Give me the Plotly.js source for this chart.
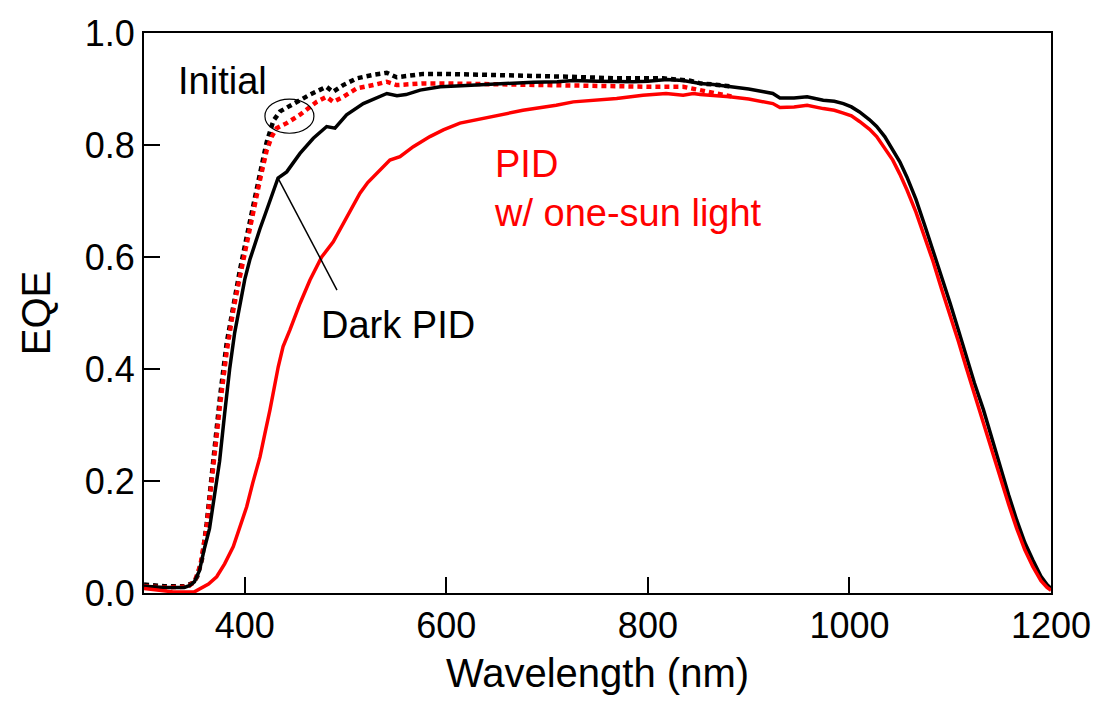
<!DOCTYPE html>
<html>
<head>
<meta charset="utf-8">
<script src="https://cdn.plot.ly/plotly-3.0.1.min.js"></script>
<style>
html,body{margin:0;padding:0;background:#fff;}
#chart{width:1101px;height:704px;}
</style>
</head>
<body>
<div id="chart"></div>
<script>
// Initial (sample later dark-PID tested) - black dotted
const initBlackWl = [300,320,340,345,349,353,357.5,362.2,368.8,375.4,382,388.6,395.2,401.9,408.5,415.1,421.7,428.3,435,448,464.7,481,487.5,497.6,511,527,540.8,550.7,577,596.6,626,676,720,769,815,842,852,865,881];
const initBlackEqe = [0.015,0.012,0.012,0.015,0.018,0.030,0.060,0.124,0.243,0.350,0.446,0.517,0.577,0.636,0.696,0.749,0.805,0.843,0.860,0.874,0.890,0.904,0.895,0.907,0.919,0.925,0.929,0.921,0.927,0.927,0.926,0.925,0.922,0.919,0.919,0.915,0.910,0.908,0.905];

// Initial (sample later light-PID tested) - red dotted
const initRedWl = [300,320,340,345,350.6,356,362,368.8,375.4,382,388.6,395.2,401.9,408.5,415.1,421.7,426.7,431.6,441.6,454.8,471.3,481,487.8,497.7,511,527.5,540.8,550.7,577,596.6,653,702.8,752,802,835,852,870,885];
const initRedEqe = [0.012,0.010,0.011,0.013,0.022,0.050,0.115,0.230,0.335,0.430,0.505,0.565,0.625,0.685,0.738,0.790,0.815,0.830,0.839,0.854,0.877,0.886,0.877,0.886,0.901,0.907,0.913,0.907,0.910,0.910,0.908,0.907,0.904,0.904,0.904,0.898,0.893,0.886];

// Dark PID - black solid
const darkWl = [300,320,340,345,350,355,360,365,370,375,380,385,390,395,400,405,410,415,420,425,430,433,441.6,454.8,468,481.3,489.5,501,517.6,534,541,551,560,574,594,615,636,660,686,710,726,750,770,785,800,819,835,852,865,881,900,915,924,931,945,958,974,985,994,1002,1010,1020,1027,1035,1043,1050,1057,1066,1075,1083,1091,1100,1108,1116,1124,1133,1141,1149,1158,1166,1174,1182,1190,1196,1200];
const darkEqe = [0.012,0.010,0.010,0.013,0.020,0.040,0.080,0.115,0.175,0.235,0.320,0.400,0.465,0.515,0.560,0.595,0.625,0.650,0.675,0.700,0.726,0.741,0.752,0.785,0.812,0.833,0.830,0.854,0.874,0.886,0.892,0.888,0.890,0.898,0.904,0.906,0.908,0.910,0.912,0.913,0.915,0.914,0.913,0.913,0.914,0.917,0.915,0.910,0.908,0.905,0.900,0.895,0.892,0.884,0.884,0.886,0.880,0.878,0.874,0.868,0.859,0.845,0.833,0.815,0.792,0.770,0.743,0.703,0.655,0.612,0.565,0.517,0.470,0.422,0.375,0.327,0.277,0.226,0.175,0.130,0.090,0.059,0.030,0.015,0.008];

// PID w/ one-sun light - red solid
const lightWl = [300,316,329,350,355.6,364,372.1,380,388.6,395,401.9,408,415.1,420,425,433.2,438,444.8,454.8,464.7,476.3,487.8,494,501.1,514.3,522,530.9,544,554,567.2,583.7,597,613.5,636.6,653,676,709,726,769,795,818,835,845,852,881,900,924,931,945,958,974,985,994,1002,1010,1020,1027,1035,1043,1050,1057,1066,1075,1083,1091,1100,1108,1116,1124,1133,1141,1149,1158,1166,1174,1182,1190,1196,1200];
const lightEqe = [0.008,0.004,0.002,0.002,0.008,0.016,0.029,0.052,0.083,0.115,0.154,0.197,0.243,0.285,0.327,0.404,0.440,0.470,0.517,0.559,0.600,0.627,0.648,0.672,0.714,0.733,0.749,0.773,0.779,0.797,0.815,0.827,0.839,0.848,0.854,0.862,0.871,0.877,0.883,0.889,0.892,0.889,0.892,0.890,0.886,0.882,0.874,0.867,0.868,0.871,0.865,0.862,0.857,0.852,0.842,0.828,0.815,0.795,0.773,0.748,0.720,0.680,0.635,0.592,0.545,0.497,0.450,0.402,0.355,0.307,0.258,0.208,0.158,0.115,0.077,0.047,0.022,0.010,0.005];

const xTicks = [400,600,800,1000,1200];
const yTicks = [0.0,0.2,0.4,0.6,0.8,1.0];
const yTickText = ['0.0','0.2','0.4','0.6','0.8','1.0'];

const FONT = 'Liberation Sans, Arial, sans-serif';
const dotted = {dash:'5px,4px', width:4.5};

const traces = [
  {x:initBlackWl, y:initBlackEqe, mode:'lines', line:Object.assign({color:'#000'}, dotted), name:'Initial'},
  {x:initRedWl, y:initRedEqe, mode:'lines', line:Object.assign({color:'#ff0000'}, dotted), name:'Initial (red)'},
  {x:darkWl, y:darkEqe, mode:'lines', line:{color:'#000', width:3.5}, name:'Dark PID'},
  {x:lightWl, y:lightEqe, mode:'lines', line:{color:'#ff0000', width:3.5}, name:'PID w/ one-sun light'}
];

const layout = {
  width:1101, height:704,
  margin:{l:144, r:50, t:33, b:111},
  paper_bgcolor:'#fff', plot_bgcolor:'#fff',
  showlegend:false,
  font:{family:FONT, color:'#000'},
  xaxis:{
    range:[300,1200], tickvals:xTicks, ticks:'inside', ticklen:16, tickwidth:2, tickcolor:'#000',
    showline:true, linewidth:2, linecolor:'#000', mirror:true, showgrid:false, zeroline:false,
    tickfont:{family:FONT, size:36, color:'#000'},
    title:{text:'Wavelength (nm)', font:{family:FONT, size:40, color:'#000'}, standoff:14}
  },
  yaxis:{
    range:[0,1], tickvals:yTicks, ticktext:yTickText, ticks:'inside', ticklen:16, tickwidth:2, tickcolor:'#000',
    showline:true, linewidth:2, linecolor:'#000', mirror:true, showgrid:false, zeroline:false,
    tickfont:{family:FONT, size:36, color:'#000'},
    title:{text:'EQE', font:{family:FONT, size:40, color:'#000'}, standoff:22}
  },
  annotations:[
    {x:332, y:0.914, xref:'x', yref:'y', text:'Initial', showarrow:false, xanchor:'left', yanchor:'middle', font:{family:FONT, size:38, color:'#000'}},
    {x:645, y:0.722, xref:'x', yref:'y', text:'PID<br>w/ one-sun light', showarrow:false, xanchor:'left', yanchor:'middle', align:'left', font:{family:FONT, size:38, color:'#ff0000'}},
    {x:474, y:0.479, xref:'x', yref:'y', text:'Dark PID', showarrow:false, xanchor:'left', yanchor:'middle', font:{family:FONT, size:38, color:'#000'}}
  ],
  shapes:[
    {type:'circle', xref:'x', yref:'y', x0:420, x1:468.6, y0:0.821, y1:0.882, line:{color:'#000', width:1.2}},
    {type:'line', xref:'x', yref:'y', x0:433, y0:0.741, x1:491.5, y1:0.541, line:{color:'#000', width:1.5}}
  ]
};

Plotly.newPlot('chart', traces, layout, {staticPlot:true, displayModeBar:false});
</script>
</body>
</html>
